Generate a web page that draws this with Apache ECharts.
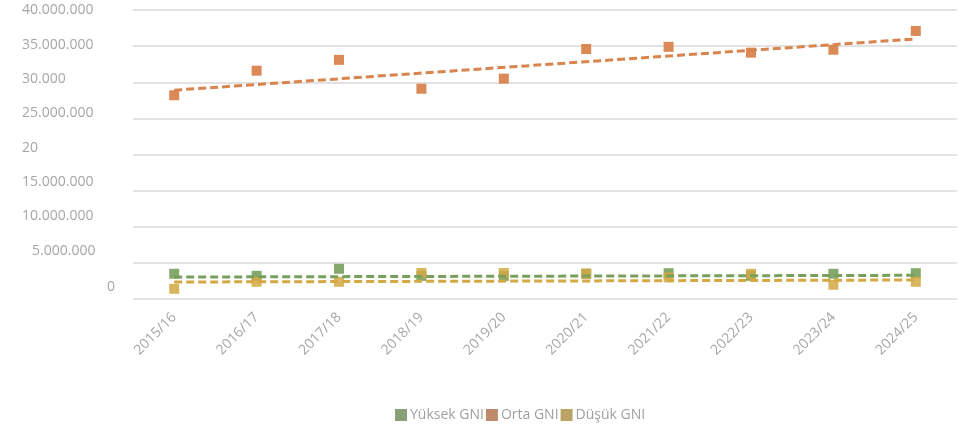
<!DOCTYPE html>
<html>
<head>
<meta charset="utf-8">
<script src="https://cdn.jsdelivr.net/npm/echarts@6/dist/echarts.min.js"></script>
<style>
  html, body { margin: 0; padding: 0; background: #fff; }
  #chart { width: 975px; height: 429px; }
</style>
</head>
<body>
<div id="chart"></div>
<script>
// categories (academic years)
const years = ["2015/16", "2016/17", "2017/18", "2018/19", "2019/20",
  "2020/21", "2021/22", "2022/23", "2023/24", "2024/25"];

// series values
const yuksek = [3490000, 3210000, 4180000, 3200000, 3200000, 3500000, 3570000, 3210000, 3490000, 3570000];
const orta = [28200000, 31600000, 33100000, 29100000, 30500000, 34600000, 34900000, 34100000, 34500000, 37100000];
const dusuk = [1410000, 2380000, 2380000, 3600000, 3600000, 3500000, 3000000, 3490000, 1970000, 2380000];

// trend lines: value at first and last category
const yuksekTrend = [3040000, 3280000];
const ortaTrend = [28900000, 36000000];
const dusukTrend = [2350000, 2630000];

// y tick labels, bottom to top (as printed on the original)
const tickLabels = ["0", "5.000.000", "10.000.000", "15.000.000", "20",
  "25.000.000", "30.000", "35.000.000", "40.000.000"];

// label nudges: [lift px, indent px], bottom to top
const labelNudge = [[12, 85], [12, 10], [11, 0], [9, 0], [6, 0], [5, 0], [3, 0], [1, 0], [0, 0]];

function trendData(t) {
  return years.map((y, i) => (i === 0 ? t[0] : i === years.length - 1 ? t[1] : null));
}

const rich = {};
labelNudge.forEach((n, i) => {
  rich["t" + i] = {
    color: "#a6a6a6",
    fontSize: 14,
    fontFamily: "Open Sans",
    padding: [0, 0, n[0] * 2, n[1]],
  };
});

const colors = { yuksek: "#78a05c", orta: "#d9834d", dusuk: "#d4a843" };

const chart = echarts.init(document.getElementById("chart"));
chart.setOption({
  animation: false,
  backgroundColor: "#fff",
  grid: { left: 133, right: 18, top: 10, bottom: 130 },
  legend: {
    left: 390,
    top: 403,
    itemWidth: 12,
    itemHeight: 12,
    itemGap: 2,
    icon: "rect",
    textStyle: { color: "#a0a0a0", fontSize: 14, fontFamily: "Open Sans", padding: [0, 0, 0, -2] },
    data: [
      { name: "Yüksek GNI", itemStyle: { color: "#8a9e78", opacity: 1 } },
      { name: "Orta GNI", itemStyle: { color: "#bf8a6c", opacity: 1 } },
      { name: "Düşük GNI", itemStyle: { color: "#b9a365", opacity: 1 } },
    ],
  },
  xAxis: {
    type: "category",
    data: years,
    boundaryGap: true,
    axisLine: { show: false },
    axisTick: { show: false },
    axisLabel: {
      rotate: 45,
      margin: 16,
      color: "#a6a6a6",
      fontSize: 14,
      fontFamily: "Open Sans",
      interval: 0,
    },
  },
  yAxis: {
    type: "value",
    min: 0,
    max: 40000000,
    interval: 5000000,
    axisLine: { show: false },
    axisTick: { show: false },
    splitLine: { lineStyle: { color: "#d9d9d9", width: 1.5 } },
    axisLabel: {
      align: "left",
      margin: 111,
      formatter: (v, i) => "{t" + i + "|" + tickLabels[i] + "}",
      rich: rich,
    },
  },
  series: [
    {
      name: "Yüksek GNI",
      type: "scatter",
      symbol: "rect",
      symbolSize: 10,
      itemStyle: { color: colors.yuksek, opacity: 0.9 },
      data: yuksek,
      z: 3,
    },
    {
      name: "Orta GNI",
      type: "scatter",
      symbol: "rect",
      symbolSize: 10,
      itemStyle: { color: colors.orta, opacity: 0.95 },
      data: orta,
      z: 3,
    },
    {
      name: "Düşük GNI",
      type: "scatter",
      symbol: "rect",
      symbolSize: 10,
      itemStyle: { color: colors.dusuk, opacity: 0.85 },
      data: dusuk,
      z: 3,
    },
    {
      name: "Yüksek trend",
      type: "line",
      data: trendData(yuksekTrend),
      connectNulls: true,
      showSymbol: false,
      symbol: "none",
      lineStyle: { color: colors.yuksek, width: 3, type: [8, 4] },
      z: 4,
    },
    {
      name: "Orta trend",
      type: "line",
      data: trendData(ortaTrend),
      connectNulls: true,
      showSymbol: false,
      symbol: "none",
      lineStyle: { color: colors.orta, width: 3, type: [8, 4] },
      z: 4,
    },
    {
      name: "Düşük trend",
      type: "line",
      data: trendData(dusukTrend),
      connectNulls: true,
      showSymbol: false,
      symbol: "none",
      lineStyle: { color: colors.dusuk, width: 3, type: [8, 4] },
      z: 4,
    },
  ],
});
</script>
</body>
</html>
